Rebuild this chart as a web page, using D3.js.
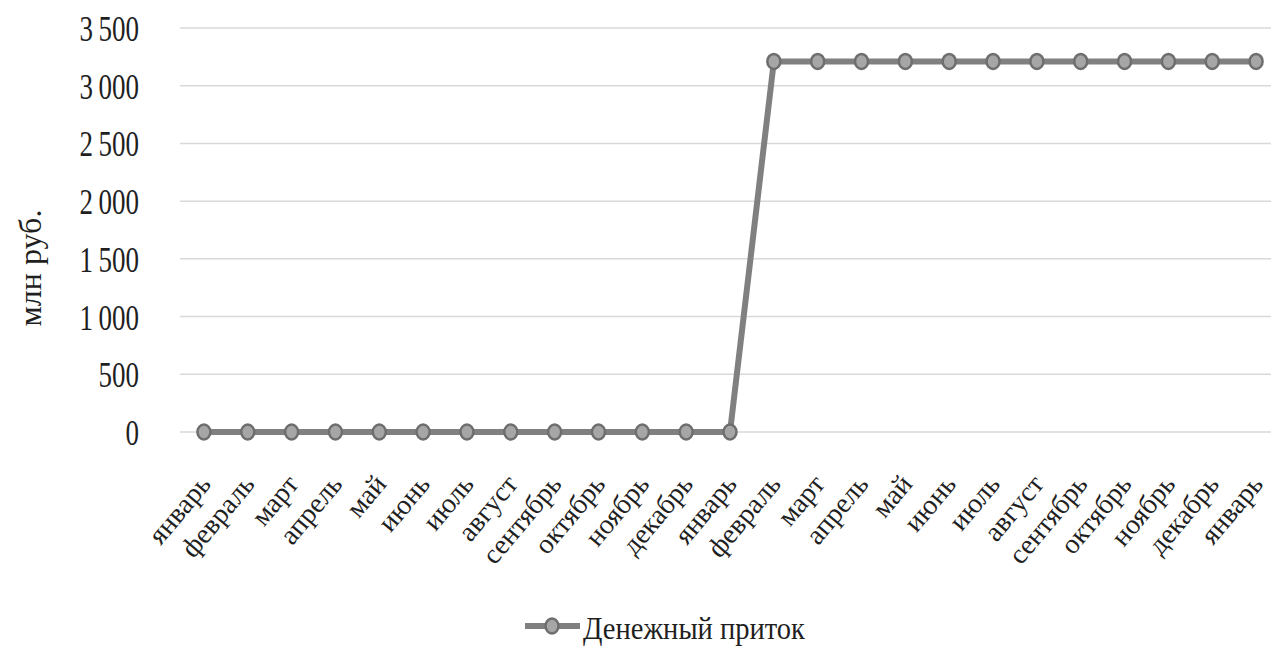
<!DOCTYPE html>
<html>
<head>
<meta charset="utf-8">
<script src="https://cdn.jsdelivr.net/npm/d3@7"></script>
<style>
  html, body { margin: 0; padding: 0; background: #fff; }
  svg { display: block; }
  text { font-family: "Liberation Serif", "Times New Roman", serif; fill: #1f1f1f; }
</style>
</head>
<body>
<svg id="chart" width="1271" height="647"></svg>
<script>
// Monthly cash inflow, mln rub.
const months = ["январь", "февраль", "март", "апрель", "май", "июнь", "июль", "август",
  "сентябрь", "октябрь", "ноябрь", "декабрь", "январь", "февраль", "март", "апрель",
  "май", "июнь", "июль", "август", "сентябрь", "октябрь", "ноябрь", "декабрь", "январь"];
const inflow = [0, 0, 0, 0, 0, 0, 0, 0, 0, 0, 0, 0, 0,
  3210, 3210, 3210, 3210, 3210, 3210, 3210, 3210, 3210, 3210, 3210, 3210];
const yTicks = [0, 500, 1000, 1500, 2000, 2500, 3000, 3500];
const seriesName = "Денежный приток";
const yTitle = "млн руб.";

const svg = d3.select("#chart");
const stretch = 1.35; // tall, narrow lettering

const x = d3.scaleBand()
  .domain(d3.range(months.length))
  .range([182, 1278]);
const y = d3.scaleLinear().domain([0, 3500]).range([432, 28]);
const cx = i => x(i) + x.bandwidth() / 2;

const fmt = v => d3.format(",")(v).replace(/,/g, "\u2009");

// gridlines
svg.append("g")
  .selectAll("line")
  .data(yTicks)
  .join("line")
  .attr("x1", 180).attr("x2", 1271)
  .attr("y1", d => y(d)).attr("y2", d => y(d))
  .attr("stroke", "#d9d9d9").attr("stroke-width", 1.5);

// y tick labels
const yAxis = d3.axisLeft(y).tickValues(yTicks).tickSize(0).tickFormat(fmt);
const gy = svg.append("g").attr("transform", "translate(139,0)").call(yAxis);
gy.select(".domain").remove();
gy.selectAll(".tick text")
  .attr("x", 0).attr("y", 0).attr("dy", null)
  .attr("dominant-baseline", "central")
  .attr("text-anchor", "end")
  .attr("transform", `scale(1,${stretch})`)
  .style("font-size", "27px")
  .style("font-family", "Liberation Serif")
  .attr("fill", "#1f1f1f");

// x tick labels
const xAxis = d3.axisBottom(x).tickSize(0).tickFormat(i => months[i]);
const gx = svg.append("g").call(xAxis);
gx.select(".domain").remove();
gx.selectAll(".tick").attr("transform", i => `translate(${cx(i) - 7},472)`);
gx.selectAll(".tick text")
  .attr("x", 0).attr("y", 0).attr("dy", null)
  .attr("text-anchor", "end")
  .attr("dominant-baseline", "hanging")
  .attr("transform", "rotate(-50)")
  .style("font-size", "28px")
  .style("font-family", "Liberation Serif")
  .attr("fill", "#1f1f1f");

// y title
svg.append("text")
  .attr("transform", "translate(30,268) rotate(-90)")
  .attr("text-anchor", "middle")
  .attr("dominant-baseline", "central")
  .style("font-size", "32px")
  .text(yTitle);

// series line
const line = d3.line()
  .x((d, i) => cx(i))
  .y(d => y(d));
svg.append("path")
  .datum(inflow)
  .attr("d", line)
  .attr("fill", "none")
  .attr("stroke", "#808080")
  .attr("stroke-width", 6);

svg.append("g")
  .selectAll("ellipse")
  .data(inflow)
  .join("ellipse")
  .attr("cx", (d, i) => cx(i))
  .attr("cy", d => y(d))
  .attr("rx", 6.5).attr("ry", 7.5)
  .attr("fill", "#a6a6a6")
  .attr("stroke", "#6e6e6e")
  .attr("stroke-width", 2.5);

// legend
const lg = svg.append("g").attr("transform", "translate(525,626)");
lg.append("line").attr("x1", 0).attr("x2", 55).attr("y1", 0).attr("y2", 0)
  .attr("stroke", "#808080").attr("stroke-width", 6);
lg.append("ellipse").attr("cx", 27).attr("cy", 0).attr("rx", 6.5).attr("ry", 7.5)
  .attr("fill", "#a6a6a6").attr("stroke", "#6e6e6e").attr("stroke-width", 2.5);
lg.append("text")
  .attr("x", 58).attr("y", 13)
  .attr("textLength", 222)
  .attr("lengthAdjust", "spacingAndGlyphs")
  .style("font-size", "31px")
  .text(seriesName);
</script>
</body>
</html>
